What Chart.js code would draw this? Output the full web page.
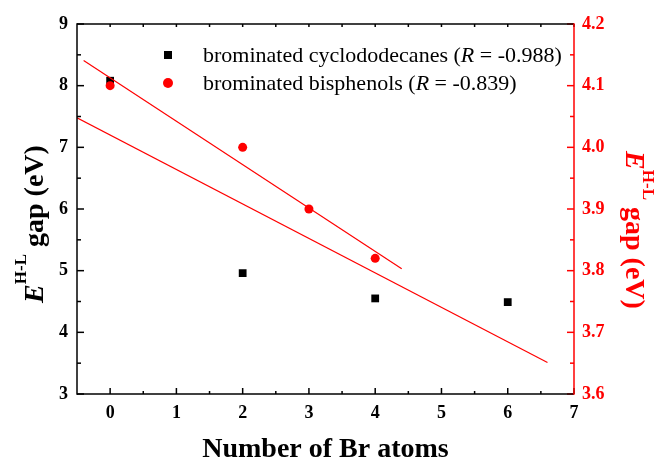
<!DOCTYPE html>
<html>
<head>
<meta charset="utf-8">
<script src="https://cdn.jsdelivr.net/npm/chart.js@4/dist/chart.umd.min.js"></script>
<style>
html, body { margin: 0; padding: 0; background: #fff; }
</style>
</head>
<body>
<canvas id="c" width="661" height="464"></canvas>
<script>
// HBCD-type compounds (left axis)
var brNumCDD = [0, 2, 4, 6];
var gapCDD = [8.08, 4.96, 4.55, 4.49];
// bisphenols (right axis)
var brNumBP = [0, 2, 3, 4];
var gapBP = [4.10, 4.00, 3.90, 3.82];
// linear fit end points
var fitCDDx = [-0.5, 6.6];
var fitCDDy = [7.48, 3.51];
var fitBPx = [-0.4, 4.4];
var fitBPy = [4.141, 3.803];
// ticks
var xTicks = [0, 1, 2, 3, 4, 5, 6, 7];
var yLeftTicks = [3, 4, 5, 6, 7, 8, 9];
var yRightTicks = [3.6, 3.7, 3.8, 3.9, 4.0, 4.1, 4.2];
var legendCDD = ['brominated cyclododecanes (', 'R', ' = -0.988)'];
var legendBP = ['brominated bisphenols (', 'R', ' = -0.839)'];

var RED = '#ff0000';
var SERIF = '"Liberation Serif", "Times New Roman", serif';

function pairs(xs, ys) {
    return xs.map(function(x, i) { return { x: x, y: ys[i] }; });
}
function setTicks(arr) {
    return function(scale) {
        scale.ticks = arr.map(function(v) { return { value: v }; });
    };
}
function minors(arr) {
    var m = [];
    for (var i = 0; i < arr.length - 1; i++) m.push((arr[i] + arr[i + 1]) / 2);
    return m;
}

// draws frame, inward ticks, axis titles and the legend
var decorations = {
    id: 'decorations',
    afterDraw: function(chart) {
        var ctx = chart.ctx, a = chart.chartArea;
        var xs = chart.scales.x, yl = chart.scales.yL, yr = chart.scales.yR;
        ctx.save();
        ctx.lineWidth = 1.5;
        ctx.lineCap = 'butt';

        function line(x1, y1, x2, y2, c) {
            ctx.strokeStyle = c;
            ctx.beginPath();
            ctx.moveTo(x1, y1);
            ctx.lineTo(x2, y2);
            ctx.stroke();
        }

        // x ticks, bottom and top
        xTicks.forEach(function(v) {
            var p = xs.getPixelForValue(v);
            line(p, a.bottom, p, a.bottom - 6, '#000');
            line(p, a.top, p, a.top + 3, '#000');
        });
        minors(xTicks).forEach(function(v) {
            var p = xs.getPixelForValue(v);
            line(p, a.bottom, p, a.bottom - 3, '#000');
            line(p, a.top, p, a.top + 3, '#000');
        });
        // left ticks
        yLeftTicks.forEach(function(v) {
            var p = yl.getPixelForValue(v);
            line(a.left, p, a.left + 7, p, '#000');
        });
        minors(yLeftTicks).forEach(function(v) {
            var p = yl.getPixelForValue(v);
            line(a.left, p, a.left + 4, p, '#000');
        });
        // right ticks
        yRightTicks.forEach(function(v) {
            var p = yr.getPixelForValue(v);
            line(a.right, p, a.right - 7, p, RED);
        });
        minors(yRightTicks).forEach(function(v) {
            var p = yr.getPixelForValue(v);
            line(a.right, p, a.right - 4, p, RED);
        });

        // frame
        line(a.left, a.top - 0.75, a.left, a.bottom + 0.75, '#000');
        line(a.left, a.top, a.right, a.top, '#000');
        line(a.left, a.bottom, a.right, a.bottom, '#000');
        line(a.right, a.top - 0.75, a.right, a.bottom + 0.75, RED);

        // x title
        ctx.fillStyle = '#000';
        ctx.font = 'bold 28px ' + SERIF;
        ctx.textAlign = 'center';
        ctx.textBaseline = 'alphabetic';
        ctx.fillText('Number of Br atoms', (a.left + a.right) / 2, 457);

        // y titles: E^{H-L} gap (eV)
        function yTitle(x, y, rot, color) {
            var parts = [
                { t: 'E', f: 'italic bold 28px ' + SERIF, dy: 0 },
                { t: 'H-L', f: 'bold 17px ' + SERIF, dy: -17 },
                { t: ' gap (eV)', f: 'bold 28px ' + SERIF, dy: 0 }
            ];
            var w = 0;
            parts.forEach(function(p) { ctx.font = p.f; p.w = ctx.measureText(p.t).width; w += p.w; });
            ctx.save();
            ctx.translate(x, y);
            ctx.rotate(rot);
            ctx.fillStyle = color;
            ctx.textAlign = 'left';
            var cx = -w / 2;
            parts.forEach(function(p) {
                ctx.font = p.f;
                ctx.fillText(p.t, cx, p.dy);
                cx += p.w;
            });
            ctx.restore();
        }
        yTitle(43, 224, -Math.PI / 2, '#000');
        yTitle(626, 230, Math.PI / 2, RED);

        // legend
        function legendRow(y, parts) {
            ctx.fillStyle = '#000';
            ctx.textAlign = 'left';
            var cx = 203;
            parts.forEach(function(t, i) {
                ctx.font = (i === 1 ? 'italic ' : '') + '22px ' + SERIF;
                ctx.fillText(t, cx, y);
                cx += ctx.measureText(t).width;
            });
        }
        ctx.fillStyle = '#000';
        ctx.fillRect(164, 51, 8, 8);
        ctx.fillStyle = RED;
        ctx.beginPath();
        ctx.arc(168, 83, 5, 0, Math.PI * 2);
        ctx.fill();
        legendRow(62, legendCDD);
        legendRow(90, legendBP);

        ctx.restore();
    }
};

var tickFont = { family: SERIF, size: 18, weight: 'bold' };
var noGrid = { display: false, drawTicks: false };

new Chart(document.getElementById('c'), {
    type: 'scatter',
    data: {
        datasets: [
            {
                label: 'fit bisphenols',
                data: pairs(fitBPx, fitBPy),
                yAxisID: 'yR',
                showLine: true,
                borderColor: RED,
                borderWidth: 1.2,
                pointRadius: 0
            },
            {
                label: 'fit cyclododecanes',
                data: pairs(fitCDDx, fitCDDy),
                yAxisID: 'yL',
                showLine: true,
                borderColor: RED,
                borderWidth: 1.2,
                pointRadius: 0
            },
            {
                label: 'brominated bisphenols',
                data: pairs(brNumBP, gapBP),
                yAxisID: 'yR',
                pointStyle: 'circle',
                pointRadius: 4.5,
                backgroundColor: RED,
                borderColor: RED,
                borderWidth: 0
            },
            {
                label: 'brominated cyclododecanes',
                data: pairs(brNumCDD, gapCDD),
                yAxisID: 'yL',
                pointStyle: 'rect',
                pointRadius: 5.5,
                backgroundColor: '#000',
                borderColor: '#000',
                borderWidth: 0
            }
        ]
    },
    options: {
        responsive: false,
        animation: false,
        layout: { padding: { top: 24, left: 0, right: 0, bottom: 0 } },
        plugins: { legend: { display: false }, tooltip: { enabled: false } },
        scales: {
            x: {
                type: 'linear',
                min: -0.5,
                max: 7,
                afterBuildTicks: setTicks(xTicks),
                afterFit: function(s) { s.height = 70; },
                grid: noGrid,
                border: { display: false },
                ticks: { font: tickFont, color: '#000', padding: 9, maxRotation: 0 }
            },
            yL: {
                type: 'linear',
                position: 'left',
                min: 3,
                max: 9,
                afterBuildTicks: setTicks(yLeftTicks),
                afterFit: function(s) { s.width = 77; },
                grid: noGrid,
                border: { display: false },
                ticks: { font: tickFont, color: '#000', padding: 9 }
            },
            yR: {
                type: 'linear',
                position: 'right',
                min: 3.6,
                max: 4.2,
                afterBuildTicks: setTicks(yRightTicks),
                afterFit: function(s) { s.width = 87; },
                grid: noGrid,
                border: { display: false },
                ticks: {
                    font: tickFont,
                    color: RED,
                    padding: 8,
                    callback: function(v) { return v.toFixed(1); }
                }
            }
        }
    },
    plugins: [decorations]
});
</script>
</body>
</html>
